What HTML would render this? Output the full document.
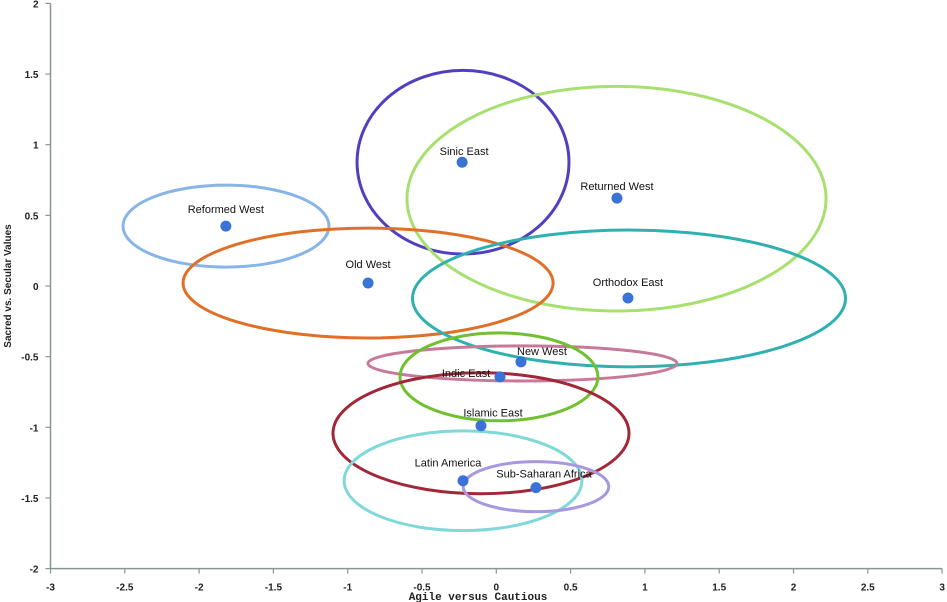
<!DOCTYPE html>
<html><head><meta charset="utf-8"><style>
body{margin:0;background:#fff;width:947px;height:602px;overflow:hidden}
svg{display:block}
text{font-family:"Liberation Sans",Arial,sans-serif}
text.mono{font-family:"Liberation Mono",monospace}
</style></head><body>
<svg id="chart" width="947" height="602" xmlns="http://www.w3.org/2000/svg"></svg>
<script>
const categories=["Sinic East","Returned West","Reformed West","Old West","Orthodox East","New West","Indic East","Islamic East","Latin America","Sub-Saharan Africa"];
const xValues=[-0.23,0.812,-1.82,-0.863,0.886,0.166,0.025,-0.103,-0.224,0.267];
const yValues=[0.876,0.622,0.424,0.021,-0.085,-0.537,-0.643,-0.989,-1.378,-1.427];
const ellipseCx=[-0.224,0.809,-1.819,-0.863,0.893,0.176,0.018,-0.103,-0.224,0.267];
const ellipseCy=[0.876,0.618,0.424,0.021,-0.088,-0.548,-0.643,-1.042,-1.378,-1.42];
const ellipseRx=[0.713,1.41,0.693,1.245,1.457,1.04,0.666,0.996,0.80,0.49];
const ellipseRy=[0.65,0.795,0.29,0.389,0.484,0.124,0.311,0.428,0.353,0.177];
const xTicks=[-3,-2.5,-2,-1.5,-1,-0.5,0,0.5,1,1.5,2,2.5,3];
const yTicks=[-2,-1.5,-1,-0.5,0,0.5,1,1.5,2];
const colors=["#5040c0","#a8e070","#88b4e8","#e07028","#30b0b0","#c87898","#70c030","#a02838","#80d8d8","#a898e0"];
const labelDx=[2,0,0,0,0,21,-34,12,-15,8];
const labelDy=[-7,-8,-13,-15,-12,-7,0,-9,-14,-10];

const X=v=>50.5+(v+3)*148.6;
const Y=v=>286-v*141.3;
const svg=document.getElementById('chart');
const NS='http://www.w3.org/2000/svg';
function mk(tag,attrs,parent){const e=document.createElementNS(NS,tag);for(const k in attrs)e.setAttribute(k,attrs[k]);(parent||svg).appendChild(e);return e;}

const axes=mk('g',{});


const xa=mk('line',{x1:X(-3),y1:Y(-2),x2:X(3),y2:Y(-2),stroke:'#8a9696','stroke-width':1.5},axes);


const ya=mk('line',{x1:X(-3),y1:Y(-2),x2:X(-3),y2:Y(2),stroke:'#8a9696','stroke-width':1.5},axes);


xTicks.forEach(t=>{
  mk('line',{x1:X(t),y1:Y(-2),x2:X(t),y2:Y(-2)+5,stroke:'#8a9696','stroke-width':1.2},axes);
  const tx=mk('text',{x:X(t),y:Y(-2)+22,'text-anchor':'middle','font-size':10,'font-weight':'bold',fill:'#222'},axes);
  tx.textContent=t;
  
  
});
yTicks.forEach(t=>{
  mk('line',{x1:X(-3)-5,y1:Y(t),x2:X(-3),y2:Y(t),stroke:'#8a9696','stroke-width':1.2},axes);
  const tx=mk('text',{x:X(-3)-12,y:Y(t)+4,'text-anchor':'end','font-size':10,'font-weight':'bold',fill:'#222'},axes);
  tx.textContent=t;
  
  
});
const xt=mk('text',{x:478,y:600,'text-anchor':'middle','font-size':11,'font-weight':'bold',fill:'#222','class':'mono'});
xt.textContent='Agile versus Cautious';


const yt=mk('text',{x:0,y:0,'text-anchor':'middle','font-size':10,'font-weight':'bold',fill:'#222',transform:'translate(11,286) rotate(-90)'});
yt.textContent='Sacred vs. Secular Values';



categories.forEach((c,i)=>{
  const e=mk('ellipse',{cx:X(ellipseCx[i]),cy:Y(ellipseCy[i]),rx:ellipseRx[i]*148.6,ry:ellipseRy[i]*141.3,fill:'none',stroke:colors[i],'stroke-width':3});
  
  
});
categories.forEach((c,i)=>{
  const p=mk('circle',{cx:X(xValues[i]),cy:Y(yValues[i]),r:5.5,fill:'#3a72d8'});
  
  
  const l=mk('text',{x:X(xValues[i])+labelDx[i],y:Y(yValues[i])+labelDy[i],'text-anchor':'middle','font-size':11,fill:'#111'});
  l.textContent=c;
  
  
});
</script>
</body></html>
